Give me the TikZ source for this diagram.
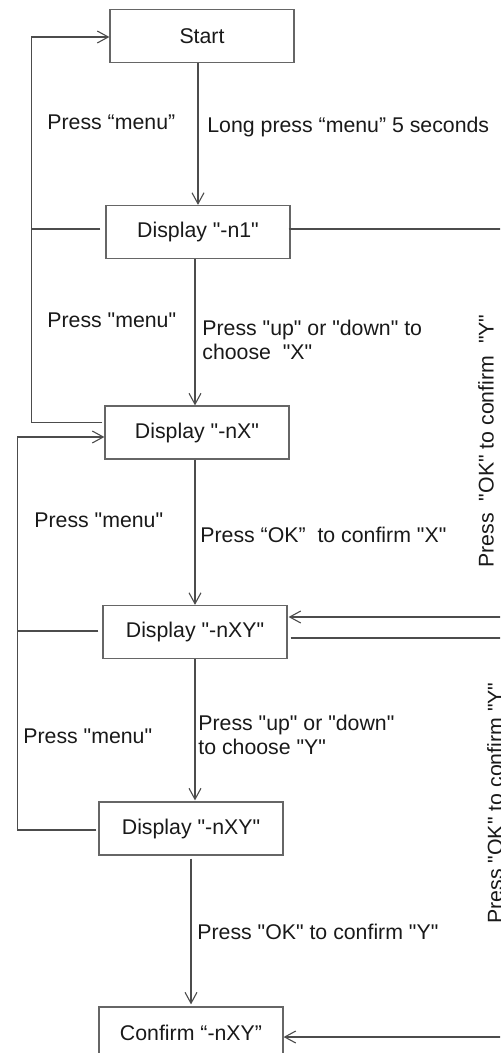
\documentclass[tikz,border=0pt]{standalone}
\usepackage{fontspec}
\setmainfont{Liberation Sans}[Ligatures=TeXOff]
\usetikzlibrary{arrows.meta,calc}
\begin{document}
\begin{tikzpicture}[x=0.5pt,y=-0.5pt,
  box/.style={draw=black!60, line width=0.6pt, minimum width=92pt, minimum height=26.5pt, inner sep=0pt, text=black!90, font=\fontsize{10.65}{12.8}\selectfont},
  lbl/.style={inner sep=0pt, text=black!90, font=\fontsize{10.65}{12}\selectfont, anchor=mid west, align=left},
  lbltwo/.style={lbl, anchor=west},
  conn/.style={draw=black!70, line width=0.55pt},
  arr/.style={conn, -{Straight Barb[length=5.5pt,width=6pt]}},
]
\useasboundingbox (0,0) rectangle (500,1053);
\clip (0,0) rectangle (500,1053);

% boxes
\node[box] (start)   at (202,36)     {Start};
\node[box] (n1)      at (198,232)    {Display "-n1"};
\node[box] (nX)      at (197,432.5)  {Display "-nX"};
\node[box] (nXY1)    at (195,632)    {Display "-nXY"};
\node[box] (nXY2)    at (191,828.5)  {Display "-nXY"};
\node[box, text depth=0pt] (confirm) at (191,1033.5) {\raisebox{1pt}{Confirm “-nXY”}};

% main vertical arrows
\draw[arr] (n1.north |- start.south) -- (n1.north);
\draw[arr] ($(nX.north |- n1.south)+(-2,0)$) -- ($(nX.north)+(-2,0)$);
\draw[arr] (nXY1.north |- nX.south) -- (nXY1.north);
\draw[arr] (nXY1.south) -- ($(nXY1.south |- nXY2.north)+(0,-1)$);
\draw[arr] ($(nXY2.south)+(0,3)$) -- ($(confirm.north)+(0,-2)$);

% left loop A (back to Start)
\draw[arr] ($(nX.west)+(-2,-10)$) -- ++(-71,0) |- ($(start.west)+(0,1)$);
\draw[conn] ($(n1.west)+(-5,-3)$) -- ++(-69,0);

% left loop B (back to -nX)
\draw[arr] ($(nXY2.west)+(-2,1.5)$) -- ++(-79,0) |- ($(nX.west)+(0,4.5)$);
\draw[conn] ($(nXY1.west)+(-4,-1)$) -- ++(-81,0);

% right loops
\draw[arr] ($(n1.east)+(-2,-3)$) -- ++(218,0) |- ($(nXY1.east)+(1,-15)$);
\draw[arr] ($(nXY1.east)+(3,6)$) -- ++(216,0) |- ($(confirm.east)+(0,3.5)$);

% labels
\node[lbl] (l1) at (47,124)  {Press “menu”};
\node[lbl] (l2) at (207,127) {Long press “menu” 5 seconds};
\node[lbl] (l3) at (47,322)  {Press "menu"};
\node[lbltwo] (l4) at (202,340) {Press "up" or "down" to\\choose\ \ "X"};
\node[lbl] (l5) at (34,522)  {Press "menu"};
\node[lbl] (l6) at (200,537) {Press “OK”\ \ to confirm "X"};
\node[lbl] (l7) at (23,738)  {Press "menu"};
\node[lbltwo] (l8) at (198,735) {Press "up" or "down"\\to choose "Y"};
\node[lbl] (l9) at (197,934) {Press "OK" to confirm "Y"};
\node[lbl, anchor=center, rotate=90] (r1) at (486,441) {Press\ \ "OK" to confirm\ \ "Y"};
\node[lbl, anchor=center, rotate=90] (r2) at (495,803) {Press "OK" to confirm "Y"};
\end{tikzpicture}
\end{document}
